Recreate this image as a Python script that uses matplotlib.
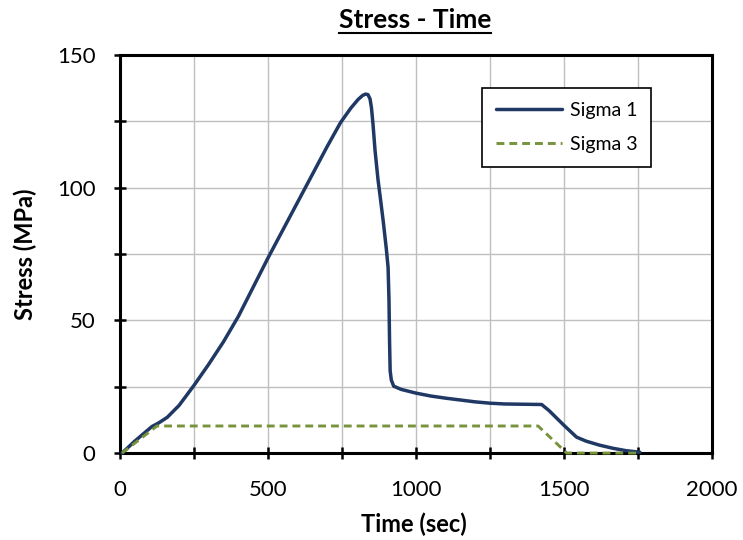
import matplotlib.pyplot as plt
from matplotlib.lines import Line2D
from matplotlib.ticker import MultipleLocator

# Sigma 1
time_s1 = [7, 50, 108, 130, 160, 200, 250, 300, 350, 400, 450, 500, 550, 600,
           650, 700, 745, 780, 805, 820, 830, 838, 845, 850, 855, 862, 872,
           880, 890, 900, 906, 909, 911, 913, 917, 925, 950, 1000, 1050, 1100,
           1150, 1200, 1250, 1300, 1425, 1450, 1500, 1543, 1575, 1620, 1666,
           1710, 1757]
sigma1 = [0, 4.5, 10, 11.3, 13.5, 18, 25.5, 33.5, 42, 51.5, 62.5, 73.5, 84,
          94.5, 105, 115.5, 124.5, 130, 133.3, 134.8, 135.3, 135.1, 133.5, 130,
          124, 114, 103, 96, 87, 77, 70, 58, 42, 31, 27.5, 25.2, 24, 22.6,
          21.5, 20.7, 20, 19.3, 18.8, 18.5, 18.3, 16, 10.5, 6, 4.5, 3, 1.8,
          0.9, 0.3]

# Sigma 3
time_s3 = [7, 125, 1413, 1510, 1757]
sigma3 = [0, 10.2, 10.2, 0, 0]

plt.rcParams['font.family'] = ['Lato', 'DejaVu Sans']

fig = plt.figure(figsize=(7.43, 5.40), dpi=100)
ax = fig.add_axes([0.1615, 0.161, 0.7965, 0.737])

ax.plot(time_s1, sigma1, color='#1F3864', lw=2.5, label='Sigma 1',
        solid_capstyle='round', solid_joinstyle='round', zorder=3, clip_on=False)
ax.plot(time_s3, sigma3, color='#77933C', lw=2.1, ls=(0, (2.7, 1.7)),
        label='Sigma 3', zorder=3, clip_on=False)

ax.set_xlim(0, 2000)
ax.set_ylim(0, 150)
ax.xaxis.set_major_locator(MultipleLocator(500))
ax.xaxis.set_minor_locator(MultipleLocator(250))
ax.yaxis.set_major_locator(MultipleLocator(50))
ax.yaxis.set_minor_locator(MultipleLocator(25))
ax.grid(True, which='both', color='#BFBFBF', lw=1)
ax.set_axisbelow(True)
ax.tick_params(which='both', direction='inout', length=9, width=1.8, labelsize=16)
ax.tick_params(axis='x', pad=15)
ax.tick_params(axis='y', pad=13)
for sp in ax.spines.values():
    sp.set_linewidth(2.2)

ax.set_xlabel('Time (sec)', fontsize=17, fontweight='bold')
ax.set_ylabel('Stress (MPa)', fontsize=17, fontweight='bold')
ax.xaxis.set_label_coords(0.496, -0.15)
ax.yaxis.set_label_coords(-0.14, 0.5)

title = fig.text(0.5585, 0.948, 'Stress - Time', ha='center', va='baseline',
                 fontsize=19, fontweight='bold')
fig.canvas.draw()
bb = title.get_window_extent().transformed(fig.transFigure.inverted())
fig.add_artist(Line2D([bb.x0, bb.x1], [0.939, 0.939],
                      transform=fig.transFigure, color='black', lw=1.5))

leg = ax.legend(loc='upper right', bbox_to_anchor=(0.897, 0.917), fontsize=14,
                fancybox=False, framealpha=1, edgecolor='black',
                handlelength=3.4, borderpad=0.7, labelspacing=0.9,
                handletextpad=0.4, borderaxespad=0)
leg.get_frame().set_linewidth(1.2)
leg.set_zorder(5)

fig.savefig('out.png', dpi=100)
